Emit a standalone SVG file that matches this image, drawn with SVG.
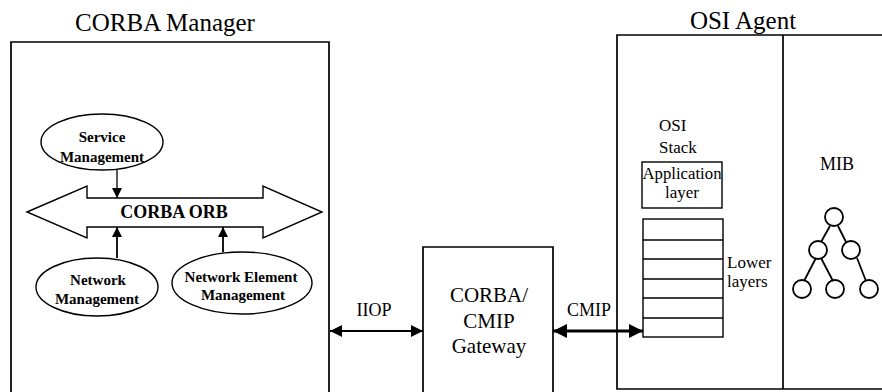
<svg xmlns="http://www.w3.org/2000/svg" width="882" height="392" viewBox="0 0 882 392">
<defs>
<marker id="ah" viewBox="0 0 10 10" refX="10" refY="5" markerWidth="10" markerHeight="10" markerUnits="userSpaceOnUse" orient="auto-start-reverse"><path d="M0,0 L10,5 L0,10 Z" fill="#000"/></marker>
<marker id="ahb" viewBox="0 0 10 10" refX="10" refY="5" markerWidth="12" markerHeight="12" markerUnits="userSpaceOnUse" orient="auto-start-reverse"><path d="M0,0 L10,5 L0,10 Z" fill="#000"/></marker>
<marker id="ahc" viewBox="0 0 10 10" refX="10" refY="5" markerWidth="15" markerHeight="14" markerUnits="userSpaceOnUse" orient="auto-start-reverse"><path d="M0,0 L10,5 L0,10 Z" fill="#000"/></marker>
</defs>
<style>
text{font-family:"Liberation Serif","Times New Roman",serif;fill:#000}
.box{fill:none;stroke:#000;stroke-width:1.7}
.thin{fill:none;stroke:#000;stroke-width:1.4}
.tree{fill:none;stroke:#000;stroke-width:1.8}
.b{font-weight:bold}
.m{text-anchor:middle}
</style>
<rect width="882" height="392" fill="#fff"/>

<g id="corba-manager">
<text x="165" y="31" class="m" font-size="25">CORBA Manager</text>
<path class="box" d="M11,395 V42 H329 V395"/>
</g>

<g id="corba-orb">
<path class="thin" d="M27,212 L87,186 V198 H263 V186 L322,212 L263,238 V227 H87 V238 Z"/>
<text x="174" y="218" class="m b" font-size="18">CORBA ORB</text>
</g>

<g id="service-management">
<ellipse class="thin" cx="102" cy="142" rx="61" ry="28"/>
<text x="102" y="142" class="m b" font-size="15">Service</text>
<text x="102" y="162" class="m b" font-size="15">Management</text>
</g>

<g id="network-management">
<ellipse class="thin" cx="97" cy="287" rx="61" ry="29"/>
<text x="98" y="285" class="m b" font-size="15">Network</text>
<text x="97" y="304" class="m b" font-size="15">Management</text>
</g>

<g id="network-element-management">
<ellipse class="thin" cx="242" cy="283" rx="70" ry="31"/>
<text x="241" y="282" class="m b" font-size="15">Network Element</text>
<text x="243" y="300" class="m b" font-size="15">Management</text>
</g>

<g id="gateway">
<path class="box" d="M423,395 V247 H553 V395"/>
<text x="489" y="302" class="m" font-size="21">CORBA/</text>
<text x="489" y="328" class="m" font-size="21">CMIP</text>
<text x="489" y="353" class="m" font-size="21">Gateway</text>
</g>

<g id="osi-agent">
<text x="743" y="29" class="m" font-size="25">OSI Agent</text>
<path class="box" d="M890,35 H617 V389 H890"/>
<line class="box" x1="783" y1="35" x2="783" y2="389"/>
</g>

<g id="osi-stack">
<text x="659" y="131" font-size="17">OSI</text>
<text x="659" y="153" font-size="17">Stack</text>
<rect class="thin" x="642" y="162" width="80" height="46"/>
<text x="682" y="179" class="m" font-size="17" textLength="79" lengthAdjust="spacingAndGlyphs">Application</text>
<text x="682" y="198" class="m" font-size="17">layer</text>
<rect class="thin" x="643" y="219" width="80" height="118"/>
<path class="thin" d="M643,240 H723 M643,259 H723 M643,279 H723 M643,298 H723 M643,318 H723"/>
<text x="727" y="268" font-size="17">Lower</text>
<text x="727" y="287" font-size="17">layers</text>
</g>

<g id="mib">
<text x="837" y="170" class="m" font-size="18">MIB</text>
<path class="tree" d="M830,226 L821,242 M838,226 L846,242 M816,258 L804,281 M821,258 L833,281 M857,258 L866,281"/>
<g class="tree">
<circle cx="834" cy="217" r="9"/>
<circle cx="818" cy="250" r="9"/>
<circle cx="851" cy="250" r="9"/>
<circle cx="802" cy="289" r="9"/>
<circle cx="835" cy="289" r="9"/>
<circle cx="869" cy="289" r="9"/>
</g>
</g>

<g id="connectors">
<line x1="117" y1="170" x2="117" y2="198" stroke="#000" stroke-width="1.3" marker-end="url(#ah)"/>
<line x1="117" y1="258" x2="117" y2="227" stroke="#000" stroke-width="1.8" marker-end="url(#ah)"/>
<line x1="223" y1="252" x2="223" y2="227" stroke="#000" stroke-width="1.8" marker-end="url(#ah)"/>
<line x1="330" y1="331" x2="423" y2="331" stroke="#000" stroke-width="1.8" marker-start="url(#ahb)" marker-end="url(#ahb)"/>
<line x1="553" y1="331" x2="643" y2="331" stroke="#000" stroke-width="2.8" marker-start="url(#ahc)" marker-end="url(#ahc)"/>
<text x="374" y="316" class="m" font-size="18">IIOP</text>
<text x="589" y="316" class="m" font-size="18">CMIP</text>
</g>
</svg>
